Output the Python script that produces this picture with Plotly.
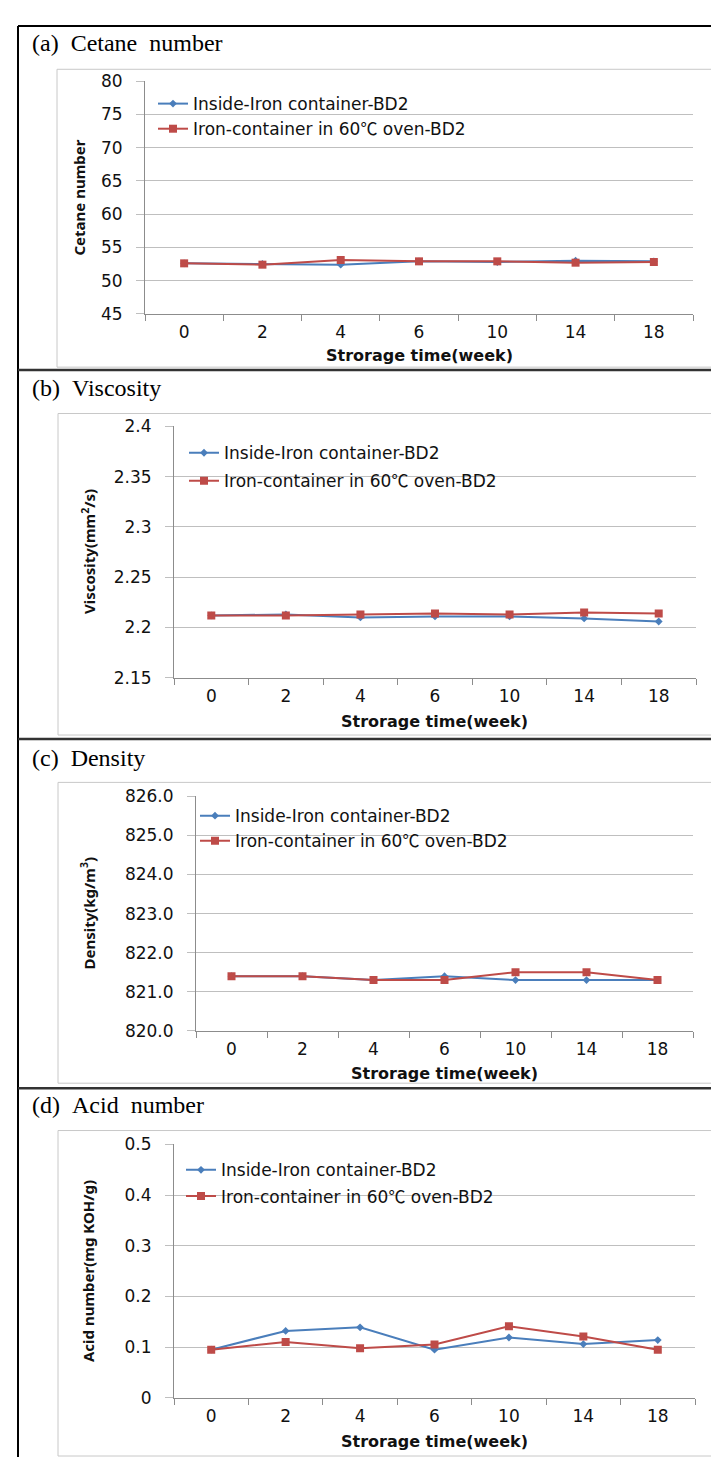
import plotly.graph_objects as go

W, H = 719, 1459

# ---------------- data ----------------
weeks = ["0", "2", "4", "6", "10", "14", "18"]
series_names = ["Inside-Iron container-BD2",
                "Iron-container in 60<span style=\"font-family:'Noto Sans CJK KR'\">\u2103</span> oven-BD2"]

cetane_inside = [52.6, 52.5, 52.4, 52.9, 52.8, 53.0, 52.9]
cetane_oven = [52.6, 52.4, 53.1, 52.9, 52.9, 52.7, 52.8]

visc_inside = [2.212, 2.213, 2.210, 2.211, 2.211, 2.209, 2.206]
visc_oven = [2.212, 2.212, 2.213, 2.214, 2.213, 2.215, 2.214]

dens_inside = [821.4, 821.4, 821.3, 821.4, 821.3, 821.3, 821.3]
dens_oven = [821.4, 821.4, 821.3, 821.3, 821.5, 821.5, 821.3]

acid_inside = [0.095, 0.132, 0.139, 0.095, 0.119, 0.106, 0.114]
acid_oven = [0.095, 0.110, 0.098, 0.105, 0.141, 0.121, 0.095]

panel_titles = ["(a)\u00a0\u00a0Cetane\u00a0\u00a0number", "(b)\u00a0\u00a0Viscosity",
                "(c)\u00a0\u00a0Density", "(d)\u00a0\u00a0Acid\u00a0\u00a0number"]
y_titles = ["Cetane number", "Viscosity(mm<sup>2</sup>/s)",
            "Density(kg/m<sup>3</sup>)", "Acid number(mg KOH/g)"]
x_title = "Strorage time(week)"
y_ranges = [[45, 80], [2.15, 2.4], [820, 826], [0, 0.5]]
y_dticks = [5, 0.05, 1, 0.1]
y_formats = ["", "", ".1f", ""]

# ---------------- layout geometry (pixels) ----------------
panels = [
    dict(plot=(137, 685, 64, 300), box=(49, 712, 52, 354), title_y=25, xt_y=342,
         yt_x=71, leg=(145, 69), gap=0),
    dict(plot=(166, 688, 414, 669), box=(50, 713, 401, 727), title_y=375, xt_y=713,
         yt_x=80, leg=(176, 423), gap=3),
    dict(plot=(188, 685, 789, 1027), box=(50, 713, 775, 1080), title_y=750, xt_y=1070,
         yt_x=80, leg=(187, 791), gap=0),
    dict(plot=(166, 687, 1142, 1399), box=(50, 715, 1128, 1458), title_y=1102, xt_y=1443,
         yt_x=80, leg=(173, 1150), gap=1),
]
separators = [357, 731, 1085]

BLUE = "#4A7EBB"
RED = "#BE4B48"
GRID = "#BFBFBF"
AXIS = "#8C8C8C"
SANS = "DejaVu Sans, Noto Sans CJK KR, sans-serif"
SANS2 = "Noto Sans, Noto Sans CJK KR, sans-serif"
SERIF = "Liberation Serif, Times New Roman, serif"


def px(x):
    return x / W


def py(y):
    return 1 - y / H


fig = go.Figure()
data = [(cetane_inside, cetane_oven), (visc_inside, visc_oven),
        (dens_inside, dens_oven), (acid_inside, acid_oven)]

shapes = []
annotations = []

for i, (p, (s1, s2)) in enumerate(zip(panels, data)):
    n = i + 1
    xa = "x" if n == 1 else f"x{n}"
    ya = "y" if n == 1 else f"y{n}"
    leg = "legend" if n == 1 else f"legend{n}"
    fig.add_trace(go.Scatter(
        x=weeks, y=s1, name=series_names[0], mode="lines+markers",
        line=dict(color=BLUE, width=2), marker=dict(symbol="diamond", size=6, color=BLUE),
        xaxis=xa, yaxis=ya, legend=leg, legendgroup=f"g{n}a"))
    fig.add_trace(go.Scatter(
        x=weeks, y=s2, name=series_names[1], mode="lines+markers",
        line=dict(color=RED, width=2), marker=dict(symbol="square", size=8, color=RED),
        xaxis=xa, yaxis=ya, legend=leg, legendgroup=f"g{n}b"))

    x0, x1, y0, y1 = p["plot"]
    xkey = "xaxis" if n == 1 else f"xaxis{n}"
    ykey = "yaxis" if n == 1 else f"yaxis{n}"
    fig.layout[xkey] = dict(
        domain=[px(x0), px(x1)], anchor=ya, type="category", range=[-0.5, 6.5],
        showgrid=False, showline=True, linecolor=AXIS, linewidth=1,
        ticks="outside", tickson="boundaries", ticklen=6, tickcolor=AXIS,
        ticklabelstandoff=3,
        tickfont=dict(family=SANS, size=17, color="#111"), fixedrange=True)
    fig.layout[ykey] = dict(
        domain=[py(y1), py(y0)], anchor=xa, range=y_ranges[i], dtick=y_dticks[i],
        tick0=y_ranges[i][0], tickformat=y_formats[i],
        showgrid=True, gridcolor=GRID, gridwidth=1, zeroline=False,
        showline=True, linecolor=AXIS, linewidth=1,
        ticks="outside", ticklen=8, tickcolor=GRID, ticklabelstandoff=10,
        tickfont=dict(family=SANS, size=17, color="#111"), fixedrange=True)

    lx, ly = p["leg"]
    fig.layout[leg] = dict(
        x=px(lx), y=py(ly), xanchor="left", yanchor="top",
        bgcolor="rgba(0,0,0,0)", borderwidth=0,
        font=dict(family=SANS, size=17, color="#111"),
        traceorder="grouped", tracegroupgap=p["gap"], itemwidth=30)

    bx0, bx1, by0, by1 = p["box"]
    shapes.append(dict(type="rect", xref="paper", yref="paper",
                       x0=px(bx0), x1=px(bx1), y0=py(by1), y1=py(by0),
                       line=dict(color="#C8C8C8", width=1), layer="below"))

    annotations.append(dict(text=panel_titles[i], xref="paper", yref="paper",
                            x=px(22), y=py(p["title_y"]), xanchor="left", yanchor="middle",
                            showarrow=False, font=dict(family=SERIF, size=24, color="#000")))
    annotations.append(dict(text=f"<b>{x_title}</b>", xref="paper", yref="paper",
                            x=px((x0 + x1) / 2), y=py(p["xt_y"]), xanchor="center",
                            yanchor="middle", showarrow=False,
                            font=dict(family=SANS, size=16, color="#111")))
    annotations.append(dict(text=f"<b>{y_titles[i]}</b>", xref="paper", yref="paper",
                            x=px(p["yt_x"]), y=py((y0 + y1) / 2), xanchor="center",
                            yanchor="middle", textangle=-90, showarrow=False,
                            font=dict(family=SANS2, size=15, color="#111")))

# outer frame
shapes.append(dict(type="line", xref="paper", yref="paper", x0=px(10), x1=px(10),
                   y0=0, y1=py(8), line=dict(color="#000", width=2)))
shapes.append(dict(type="line", xref="paper", yref="paper", x0=px(10), x1=1,
                   y0=py(8), y1=py(8), line=dict(color="#000", width=2)))
for s in separators:
    shapes.append(dict(type="line", xref="paper", yref="paper", x0=px(10), x1=1,
                       y0=py(s), y1=py(s), line=dict(color="#333", width=2.5)))

fig.update_layout(
    width=W, height=H, margin=dict(l=0, r=0, t=0, b=0),
    paper_bgcolor="white", plot_bgcolor="white",
    shapes=shapes, annotations=annotations, showlegend=True,
)

fig.write_html("out.html", config=dict(displayModeBar=False))
